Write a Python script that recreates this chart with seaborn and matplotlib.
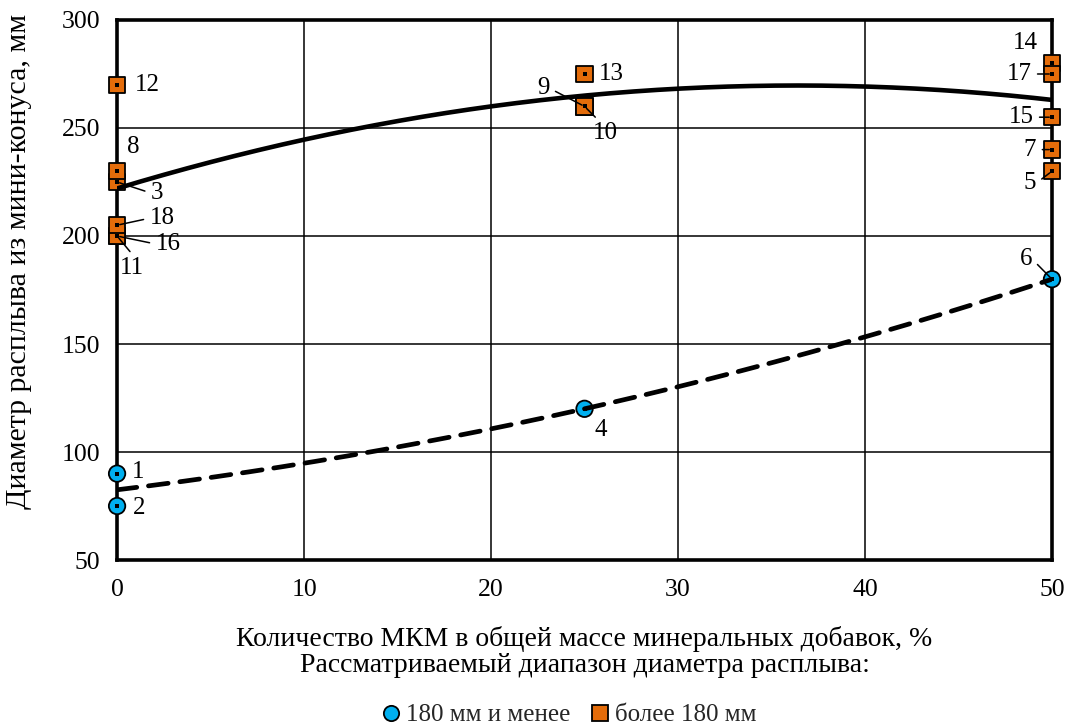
import numpy as np
import pandas as pd
import matplotlib
matplotlib.use("Agg")
import matplotlib.pyplot as plt
from matplotlib.lines import Line2D
import seaborn as sns

# ---------------- data ----------------
point_ids = ['1', '2', '3', '4', '5', '6', '7', '8', '9', '10',
             '11', '12', '13', '14', '15', '16', '17', '18']
mkm_share = [0, 0, 0, 25, 50, 50, 50, 0, 25, 25,
             0, 0, 25, 50, 50, 0, 50, 0]
spread_diam = [90, 75, 225, 120, 230, 180, 240, 230, 260, 260,
               200, 270, 275, 280, 255, 200, 275, 205]
group_names = ['180 мм и менее', 'более 180 мм']
point_group = [0, 0, 1, 0, 1, 0, 1, 1, 1, 1,
               1, 1, 1, 1, 1, 1, 1, 1]

# polynomial (order 2) trend lines, values at x = 0, 25, 50
trend_x = [0, 25, 50]
trend_low = [82.5, 120, 180]
trend_high = [222, 265, 263]

x_ticks = [0, 10, 20, 30, 40, 50]
y_ticks = [50, 100, 150, 200, 250, 300]

x_label = 'Количество МКМ в общей массе минеральных добавок, %\nРассматриваемый диапазон диаметра расплыва:'
y_label = 'Диаметр расплыва из мини-конуса, мм'

# ---------------- style ----------------
blue = '#00B0F0'
orange = '#E46C0A'
FS_TICK = 18.5
FS_PT = 18
FS_XLAB = 20
FS_YLAB = 21.5
FS_LEG = 18

sns.set_theme(style='white')
plt.rcParams['font.family'] = ['Liberation Serif', 'DejaVu Serif']

df = pd.DataFrame({
    'id': point_ids,
    'x': mkm_share,
    'y': spread_diam,
    'group': [group_names[g] for g in point_group],
})

fig = plt.figure(figsize=(10.74, 7.27), dpi=100)
ax = fig.add_axes([0.109, 0.2297, 0.8705, 0.7428])

ax.set_xlim(0, 50)
ax.set_ylim(50, 300)
ax.set_xticks(x_ticks)
ax.set_yticks(y_ticks)
ax.grid(True, color='black', lw=1.1)
ax.set_axisbelow(True)
for sp in ax.spines.values():
    sp.set_visible(True)
    sp.set_color('black')
    sp.set_linewidth(2.6)
    sp.set_zorder(2.5)

ax.tick_params(axis='both', direction='out', length=5, width=1, color='black',
               labelsize=FS_TICK, labelcolor='black', pad=7)
ax.tick_params(axis='x', pad=9)

# markers
sns.scatterplot(data=df, x='x', y='y', hue='group', style='group',
                palette={group_names[0]: blue, group_names[1]: orange},
                markers={group_names[0]: 'o', group_names[1]: 's'},
                s=140, edgecolor='black', linewidth=1.3, legend=False,
                clip_on=False, zorder=3, ax=ax)
sns.scatterplot(data=df, x='x', y='y', color='black', marker='s', s=5,
                linewidth=0, legend=False, clip_on=False, zorder=3.2, ax=ax)

# trend lines
xs = np.linspace(0, 50, 200)
c_low = np.polyfit(trend_x, trend_low, 2)
c_high = np.polyfit(trend_x, trend_high, 2)
sns.lineplot(x=xs, y=np.polyval(c_high, xs), color='black', lw=3.3,
             zorder=4, ax=ax, solid_capstyle='round')
sns.lineplot(x=xs, y=np.polyval(c_low, xs), color='black', lw=3.4,
             linestyle=(0, (4.2, 2.5)), dash_capstyle='round', zorder=4, ax=ax)

# point labels: offsets in pixels (dx right, dy up), leader anchor on the text box
label_layout = {
    '1': (21, 2, None), '2': (22, -2, None),
    '3': (40, -11, (0, 0.5)), '8': (16, 24, None),
    '11': (15, -32, (0.6, 1)), '12': (30, 0, None),
    '16': (51, -8, (0, 0.5)), '18': (45, 7, (0, 0.5)),
    '13': (27, 0, None), '9': (-41, 18, (1, 0.5)),
    '10': (21, -27, (0.3, 1)), '4': (16, -21, None),
    '6': (-26, 20, (1, 0.5)), '14': (-27, 20, None),
    '17': (-33, 0, (1, 0.5)), '15': (-31, 0, (1, 0.5)),
    '7': (-22, 0, (1, 0.5)), '5': (-22, -12, (1, 0.5)),
}
for pid, px, py in zip(point_ids, mkm_share, spread_diam):
    dx, dy, rel = label_layout[pid]
    kw = {}
    if rel is not None:
        kw['arrowprops'] = dict(arrowstyle='-', color='black', lw=1.1,
                                shrinkA=2, shrinkB=2, relpos=rel)
    ax.annotate(pid, xy=(px, py), xytext=(dx * 0.72, dy * 0.72),
                textcoords='offset points', ha='center', va='center',
                fontsize=FS_PT, color='black', zorder=5, annotation_clip=False, **kw)

ax.set_xlabel(x_label, fontsize=FS_XLAB, color='black', labelpad=18, linespacing=1.05)
ax.set_ylabel(y_label, fontsize=FS_YLAB, color='black')
ax.yaxis.set_label_coords(-0.091, 0.552)

handles = [
    Line2D([], [], marker='o', ls='none', markerfacecolor=blue,
           markeredgecolor='black', markeredgewidth=1.3, markersize=11),
    Line2D([], [], marker='s', ls='none', markerfacecolor=orange,
           markeredgecolor='black', markeredgewidth=1.3, markersize=11),
]
fig.legend(handles, group_names, loc='lower center', bbox_to_anchor=(0.527, -0.03),
           ncol=2, frameon=False, fontsize=FS_LEG, handletextpad=0.0,
           columnspacing=0.6, handlelength=1.2)

fig.savefig('out.png', dpi=100)
